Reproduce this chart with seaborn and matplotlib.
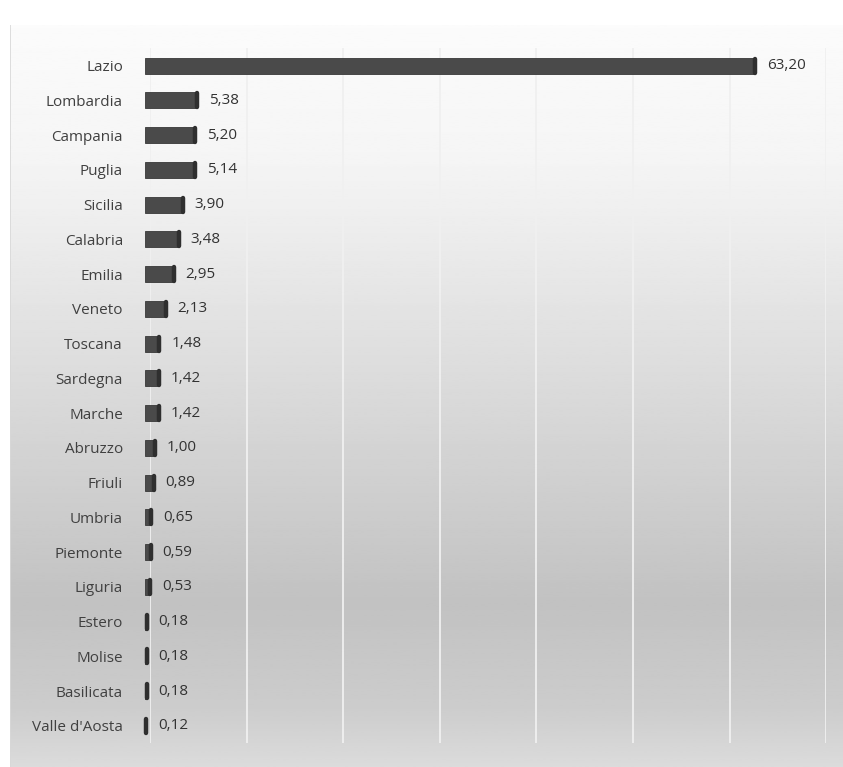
import matplotlib
matplotlib.use("Agg")
import matplotlib.pyplot as plt
import matplotlib.transforms as mtransforms
from matplotlib.patches import Rectangle
import numpy as np
import pandas as pd
import seaborn as sns

regions = ["Lazio", "Lombardia", "Campania", "Puglia", "Sicilia", "Calabria",
           "Emilia", "Veneto", "Toscana", "Sardegna", "Marche", "Abruzzo",
           "Friuli", "Umbria", "Piemonte", "Liguria", "Estero", "Molise",
           "Basilicata", "Valle d'Aosta"]
values = [63.20, 5.38, 5.20, 5.14, 3.90, 3.48, 2.95, 2.13, 1.48, 1.42, 1.42,
          1.00, 0.89, 0.65, 0.59, 0.53, 0.18, 0.18, 0.18, 0.12]
x_ticks = [0, 10, 20, 30, 40, 50, 60, 70]

df = pd.DataFrame({"regione": regions, "valore": values})

sns.set_style("white")
plt.rcParams["font.family"] = ["Open Sans", "DejaVu Sans"]

fig = plt.figure(figsize=(8.43, 7.67), dpi=100)

# background panel with vertical gradient (white top, grey middle, lighter bottom)
bg = fig.add_axes([0.012, 0.0, 0.988, 0.968])
grad = np.interp(np.linspace(0, 1, 300),
                 [0.0, 0.18, 0.45, 0.78, 0.92, 1.0],
                 [0.985, 0.96, 0.87, 0.76, 0.80, 0.86])
bg.imshow(grad[:, None], aspect="auto", cmap="gray", vmin=0, vmax=1,
          extent=[0, 1, 0, 1], origin="upper")
bg.axvline(0, color="#d8d8d8", lw=1.2)
bg.set_axis_off()

ax = fig.add_axes([0.178, 0.031, 0.802, 0.906])
ax.patch.set_alpha(0)
sns.barplot(data=df, x="valore", y="regione", color="#4a4a4a", width=0.46,
            saturation=1, edgecolor="#383838", linewidth=0.6, ax=ax)

# fake 3D depth: shift bars a few pixels left and add a rounded end cap
shift = ax.transData + mtransforms.ScaledTranslation(-5 / 100, 0, fig.dpi_scale_trans)
for p in ax.patches[:len(values)]:
    p.set_transform(shift)
    p.set_clip_on(False)
    x1 = p.get_x() + p.get_width()
    cap = Rectangle((x1, p.get_y() + 0.03), 0, p.get_height() - 0.06,
                    transform=shift, facecolor="#2f2f2f", edgecolor="#2f2f2f",
                    lw=3.2, joinstyle="round", capstyle="round", zorder=3,
                    clip_on=False)
    ax.add_patch(cap)

for i, v in enumerate(values):
    ax.annotate(f"{v:.2f}".replace(".", ","), (v, i), xytext=(5, 0),
                textcoords="offset points", va="center", ha="left",
                fontsize=11, color="#333333")

ax.set_xlim(0, 70)
ax.set_xticks(x_ticks)
ax.xaxis.grid(True, color="#f0f0f0", lw=1.3)
ax.set_axisbelow(True)
ax.tick_params(axis="x", bottom=False, labelbottom=False)
ax.tick_params(axis="y", left=False, labelsize=11, labelcolor="#404040", pad=16)
ax.set_xlabel("")
ax.set_ylabel("")
sns.despine(ax=ax, left=True, bottom=True)

fig.savefig("out.png", dpi=100)
